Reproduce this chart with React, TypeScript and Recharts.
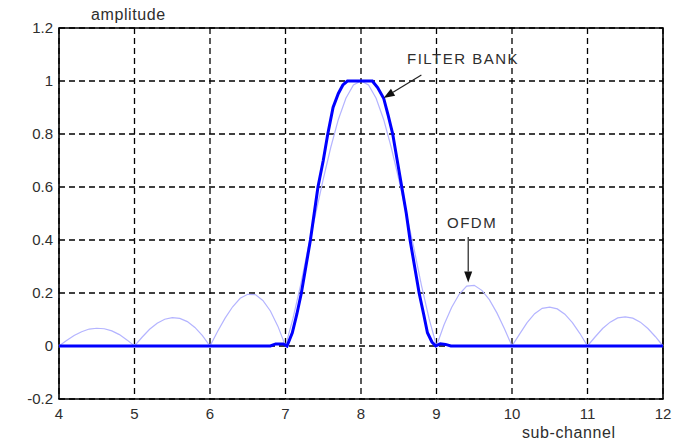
import React from 'react';
import { LineChart, Line, XAxis, YAxis, CartesianGrid, ReferenceArea, ReferenceLine } from 'recharts';

// OFDM sub-channel response, sampled every 0.1 from 4 to 12
const ofdmX = [
  4.0, 4.1, 4.2, 4.3, 4.4, 4.5, 4.6, 4.7, 4.8, 4.9,
  5.0, 5.1, 5.2, 5.3, 5.4, 5.5, 5.6, 5.7, 5.8, 5.9,
  6.0, 6.1, 6.2, 6.3, 6.4, 6.5, 6.6, 6.7, 6.8, 6.9,
  7.0, 7.1, 7.2, 7.3, 7.4, 7.5, 7.6, 7.7, 7.8, 7.9,
  8.0, 8.1, 8.2, 8.3, 8.4, 8.5, 8.6, 8.7, 8.8, 8.9,
  9.0, 9.1, 9.2, 9.3, 9.4, 9.5, 9.6, 9.7, 9.8, 9.9,
  10.0, 10.1, 10.2, 10.3, 10.4, 10.5, 10.6, 10.7, 10.8, 10.9,
  11.0, 11.1, 11.2, 11.3, 11.4, 11.5, 11.6, 11.7, 11.8, 11.9,
  12.0,
];
const ofdmY = [
  0, 0.021, 0.04, 0.054, 0.064, 0.067, 0.065, 0.057, 0.043, 0.023,
  0, 0.033, 0.063, 0.086, 0.101, 0.107, 0.104, 0.092, 0.07, 0.039,
  0, 0.055, 0.105, 0.148, 0.18, 0.195, 0.194, 0.172, 0.132, 0.074,
  0, 0.105, 0.23, 0.37, 0.5, 0.63, 0.75, 0.855, 0.935, 0.985,
  1.0, 0.985, 0.935, 0.855, 0.75, 0.63, 0.5, 0.37, 0.23, 0.105,
  0, 0.08, 0.145, 0.195, 0.226, 0.229, 0.21, 0.175, 0.125, 0.065,
  0, 0.045, 0.088, 0.122, 0.142, 0.147, 0.14, 0.12, 0.088, 0.047,
  0, 0.034, 0.066, 0.09, 0.106, 0.11, 0.105, 0.09, 0.066, 0.035,
  0,
];

// filter bank response (read at irregular x)
const fbX = [
  4, 6.8, 6.87, 6.97, 7.02, 7.09, 7.15, 7.21, 7.27, 7.33, 7.38, 7.43, 7.5, 7.56, 7.63, 7.7, 7.76, 7.82,
  8.15, 8.22, 8.3, 8.36, 8.42, 8.48, 8.54, 8.6, 8.65, 8.71, 8.77, 8.83, 8.88, 8.94, 8.99, 9.05, 9.12, 9.19, 12,
];
const fbY = [
  0, 0, 0.008, 0.008, 0, 0.05, 0.12, 0.2, 0.3, 0.4, 0.5, 0.6, 0.7, 0.8, 0.9, 0.953, 0.985, 1,
  1, 0.975, 0.935, 0.87, 0.8, 0.7, 0.6, 0.5, 0.4, 0.3, 0.2, 0.12, 0.05, 0.015, 0, 0.008, 0.006, 0, 0,
];

const xTicks = [4, 5, 6, 7, 8, 9, 10, 11, 12];
const yTicks = [-0.2, 0, 0.2, 0.4, 0.6, 0.8, 1, 1.2];

const ofdmData = ofdmX.map((x, i) => ({ x, ofdm: ofdmY[i] }));
const fbData = fbX.map((x, i) => ({ x, fb: fbY[i] }));

const FONT = '"Liberation Sans", Arial, sans-serif';
const TXT = '#2e2e2e';

const Arrow = (props: any) => {
  const { x1, y1, x2, y2 } = props;
  if ([x1, y1, x2, y2].some((v) => v == null || isNaN(v))) return null;
  const ang = Math.atan2(y2 - y1, x2 - x1);
  const len = 11;
  const w = 4;
  const bx = x2 - len * Math.cos(ang);
  const by = y2 - len * Math.sin(ang);
  const px = -Math.sin(ang) * w;
  const py = Math.cos(ang) * w;
  return (
    <g>
      <line x1={x1} y1={y1} x2={bx} y2={by} stroke="#222" strokeWidth={1.2} />
      <polygon points={`${x2},${y2} ${bx + px},${by + py} ${bx - px},${by - py}`} fill="#111" />
    </g>
  );
};

export default function App() {
  return (
    <div style={{ position: 'absolute', left: 0, top: 0, width: 675, height: 442, background: '#fff', fontFamily: FONT }}>
      <LineChart width={675} height={442} margin={{ top: 28, right: 12, bottom: 13, left: 9 }}>
        <CartesianGrid stroke="#000" strokeDasharray="6 4" strokeWidth={1.3} />
        <XAxis
          dataKey="x"
          type="number"
          domain={[4, 12]}
          ticks={xTicks}
          allowDuplicatedCategory={false}
          height={30}
          tickLine={false}
          tickSize={0}
          tickMargin={9}
          axisLine={false}
          tick={{ fill: TXT, fontSize: 15, fontFamily: FONT }}
        />
        <YAxis
          type="number"
          domain={[-0.2, 1.2]}
          ticks={yTicks}
          width={50}
          tickLine={false}
          tickSize={0}
          tickMargin={6}
          axisLine={false}
          tickFormatter={(v: number) => String(Math.round(v * 10) / 10)}
          tick={{ fill: TXT, fontSize: 15, fontFamily: FONT }}
        />
        <ReferenceArea x1={4} x2={12} y1={-0.2} y2={1.2} fill="none" stroke="#000" strokeWidth={1.6} fillOpacity={0} />
        <Line data={ofdmData} dataKey="ofdm" type="linear" stroke="#b4b4ff" strokeWidth={1.2} dot={false} isAnimationActive={false} />
        <Line data={fbData} dataKey="fb" type="linear" stroke="#0000ff" strokeWidth={3} dot={false} isAnimationActive={false} />
        <ReferenceLine segment={[{ x: 8.8, y: 1.023 }, { x: 8.3, y: 0.936 }]} shape={Arrow} />
        <ReferenceLine segment={[{ x: 9.42, y: 0.411 }, { x: 9.42, y: 0.24 }]} shape={Arrow} />
      </LineChart>
      <div style={{ position: 'absolute', left: 91, top: 6, fontSize: 16, color: TXT, letterSpacing: 0.6 }}>amplitude</div>
      <div style={{ position: 'absolute', left: 522, top: 424, fontSize: 16, color: TXT, letterSpacing: 0.6 }}>sub-channel</div>
      <div style={{ position: 'absolute', left: 407, top: 50, fontSize: 15, color: TXT, letterSpacing: 1.5 }}>FILTER BANK</div>
      <div style={{ position: 'absolute', left: 447, top: 214, fontSize: 15, color: TXT, letterSpacing: 1.5 }}>OFDM</div>
    </div>
  );
}
